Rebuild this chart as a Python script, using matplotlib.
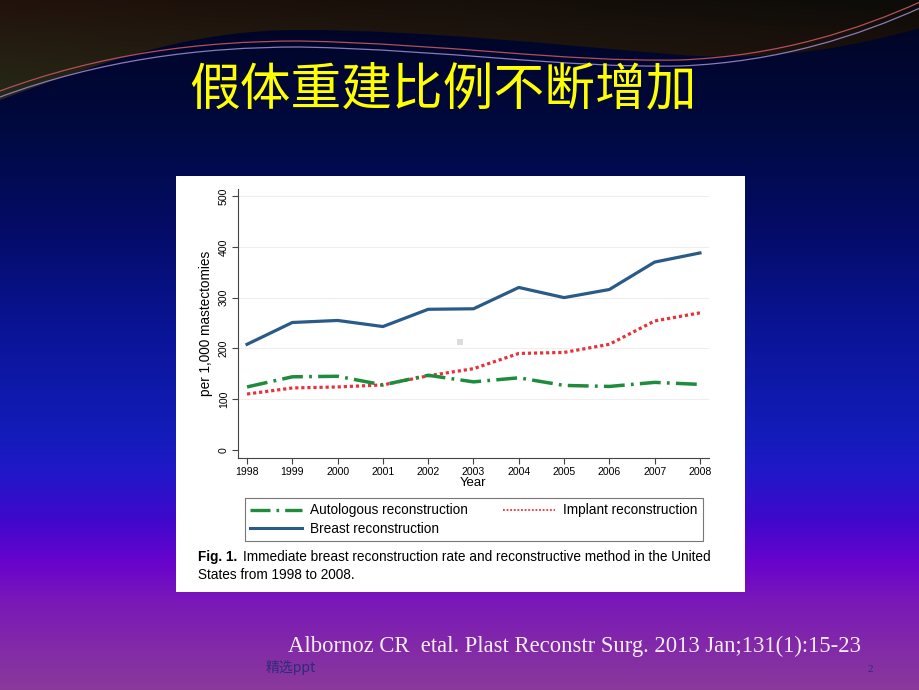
import numpy as np
import matplotlib
matplotlib.use("Agg")
import matplotlib.pyplot as plt
from matplotlib.path import Path
from matplotlib.patches import PathPatch, Rectangle
from matplotlib.lines import Line2D
from matplotlib.colors import to_rgb

# data
years = [1998, 1999, 2000, 2001, 2002, 2003, 2004, 2005, 2006, 2007, 2008]
breast = [208, 251, 255, 243, 277, 278, 320, 300, 316, 370, 388]
implant = [110, 122, 124, 128, 146, 160, 190, 192, 208, 254, 270]
autologous = [124, 144, 145, 128, 147, 134, 142, 127, 125, 133, 129]
yticks = [0, 100, 200, 300, 400, 500]

title = "假体重建比例不断增加"
caption_bold = "Fig. 1."
caption_1 = "Immediate breast reconstruction rate and reconstructive method in the United"
caption_2 = "States from 1998 to 2008."
citation = "Albornoz CR  etal. Plast Reconstr Surg. 2013 Jan;131(1):15-23"

W, H = 920, 690
fig = plt.figure(figsize=(W / 100, H / 100), dpi=100)

def fx(x):
    return x / W

def fy(y):
    return 1 - y / H

# ---- slide background ----
bg = fig.add_axes([0, 0, 1, 1])
bg.set_xlim(0, W)
bg.set_ylim(H, 0)
bg.axis("off")

stops = [(0, "#000420"), (100, "#000838"), (130, "#000a40"), (230, "#040c68"),
         (330, "#0a1496"), (430, "#121cb8"), (470, "#2018c8"), (520, "#4008cc"),
         (565, "#6a04cc"), (600, "#7a18b8"), (690, "#8a3a9a")]
ys = np.arange(H)
grad = np.zeros((H, 1, 3))
for c in range(3):
    grad[:, 0, c] = np.interp(ys, [s[0] for s in stops], [to_rgb(s[1])[c] for s in stops])
bg.imshow(grad, extent=[0, W, H, 0], aspect="auto", zorder=0)

# dark swoosh at the top
verts = [(0, 100), (120, 55), (200, 30), (300, 30),
         (420, 30), (560, 45), (680, 55),
         (780, 62), (860, 45), (920, 28),
         (920, 0), (0, 0), (0, 100)]
codes = [Path.MOVETO] + [Path.CURVE4] * 9 + [Path.LINETO, Path.LINETO, Path.CLOSEPOLY]
top = PathPatch(Path(verts, codes), facecolor="none", edgecolor="none")
bg.add_patch(top)
tl, bl = np.array(to_rgb("#22120c")), np.array(to_rgb("#262c18"))
tr, br = np.array(to_rgb("#0c0c08")), np.array(to_rgb("#2c1410"))
u = np.linspace(0, 1, 200)[None, :, None]
v = np.linspace(0, 1, 110)[:, None, None]
img = (1 - u) * ((1 - v) * tl + v * bl) + u * ((1 - v) * tr + v * br)
im = bg.imshow(img, extent=[0, W, 110, 0], aspect="auto", zorder=1)
im.set_clip_path(top)

for off, col in [(0, "#8a7ab8"), (-6, "#b0505a")]:
    lv = [(0, 97 + off), (100, 60 + off), (200, 47 + off), (300, 47 + off),
          (450, 50 + off), (560, 68 + off), (680, 66 + off),
          (780, 62 + off), (860, 35 + off), (920, 8 + off)]
    lc = [Path.MOVETO] + [Path.CURVE4] * 9
    bg.add_patch(PathPatch(Path(lv, lc), facecolor="none", edgecolor=col, lw=0.9, zorder=2))

# white panel holding the figure
bg.add_patch(Rectangle((176, 176), 569, 416, facecolor="white", edgecolor="none", zorder=3))
bg.add_patch(Rectangle((457, 339), 6, 6, facecolor="#dcdcdc", edgecolor="none", zorder=4))

# ---- chart ----
ax = fig.add_axes([fx(238), fy(458), fx(709 - 238), (458 - 189) / H])
ax.set_facecolor("none")
ax.plot(years, breast, color="#2a5a88", lw=2.3, solid_joinstyle="round", zorder=3)
ax.plot(years, implant, color="#e8323a", lw=2.3, linestyle=(0, (1, 0.9)), zorder=3)
ax.plot(years, autologous, color="#1e8c3c", lw=2.5, linestyle=(0, (6, 1.8, 0.8, 1.8)), zorder=3)

ax.set_xlim(1997.8, 2008.2)
ax.set_ylim(-16, 514)
ax.set_xticks(years)
ax.set_yticks(yticks)
ax.set_xticklabels([str(y) for y in years], fontsize=7.6, family="Liberation Sans")
ax.set_yticklabels([str(t) for t in yticks], fontsize=7.6, family="Liberation Sans",
                   rotation=90, va="center")
ax.tick_params(length=4, width=0.8, color="#444444", pad=2.5)
for t in yticks[1:]:
    ax.axhline(t, color="#eeeeee", lw=0.8, zorder=1)
for s in ["top", "right"]:
    ax.spines[s].set_visible(False)
for s in ["left", "bottom"]:
    ax.spines[s].set_color("#444444")
    ax.spines[s].set_linewidth(0.8)
ax.set_xlabel("Year", fontsize=9.5, family="Liberation Sans", labelpad=0)
ax.set_ylabel("per 1,000 mastectomies", fontsize=9.8, family="Liberation Sans", labelpad=4)

handles = [Line2D([], [], color="#1e8c3c", lw=2.4, linestyle=(0, (6, 1.8, 0.8, 1.8))),
           Line2D([], [], color="#2a5a88", lw=2.2),
           Line2D([], [], color="#e8323a", lw=1.3, linestyle=(0, (1, 1)))]
labels = ["Autologous reconstruction", "Breast reconstruction", "Implant reconstruction"]
leg = fig.legend(handles, labels, loc="lower left",
                 bbox_to_anchor=(fx(245), fy(541), fx(703 - 245), 45 / H), mode="expand",
                 ncol=2, frameon=True, fancybox=False, edgecolor="#555555",
                 prop={"family": "Liberation Sans", "size": 9.8}, handlelength=3.8,
                 handletextpad=0.6, borderpad=0.4, labelspacing=0.3, borderaxespad=0)
leg.get_frame().set_linewidth(0.8)

bold = fig.text(fx(198), fy(557), caption_bold, fontsize=9.8, family="Liberation Sans",
                fontweight="bold", va="center", ha="left")
fig.canvas.draw()
bb = bold.get_window_extent()
fig.text((bb.x1 + 6) / W, fy(557), caption_1, fontsize=9.8, family="Liberation Sans",
         va="center", ha="left")
fig.text(fx(198), fy(575), caption_2, fontsize=9.8, family="Liberation Sans",
         va="center", ha="left")

# ---- slide texts ----
fig.text(fx(443), fy(90), title, fontsize=36.5, color="#ffff00", ha="center", va="center",
         family=["Noto Sans CJK SC", "DejaVu Sans"], fontweight="light")
fig.text(fx(288), fy(646), citation, fontsize=16.3, color="#f4eef4", ha="left", va="center",
         family="Liberation Serif")
fig.text(fx(266), fy(667), "精选ppt", fontsize=10, color="#2c2c78", ha="left", va="center",
         family=["Noto Sans CJK SC", "DejaVu Sans"])
fig.text(fx(870), fy(670), "2", fontsize=8, color="#2c2c78", ha="center", va="center",
         family="Liberation Serif")

fig.savefig("out.png", dpi=100)
